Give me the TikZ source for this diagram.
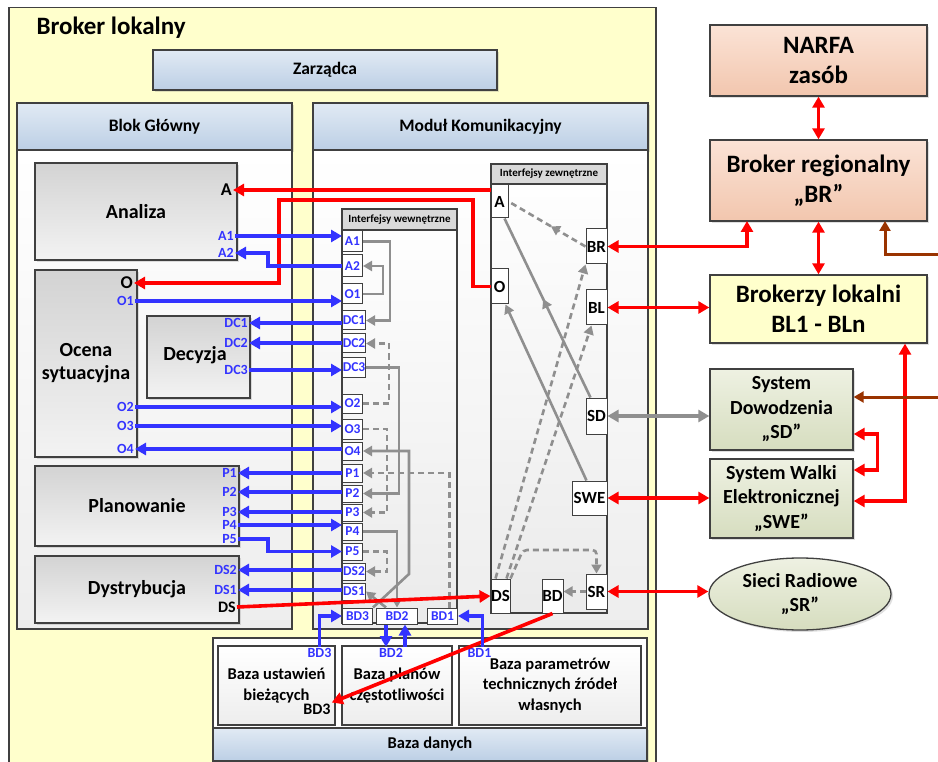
\documentclass[tikz,border=0pt]{standalone}
\usepackage{fontspec}
\setmainfont{Carlito}
\usetikzlibrary{arrows.meta,shapes.geometric,decorations.markings,shadows}

\definecolor{bordc}{HTML}{404040}
\definecolor{ylw}{HTML}{FFFFCC}
\definecolor{hdtop}{HTML}{E1EAF4}
\definecolor{hdbot}{HTML}{BCCFE5}
\definecolor{bltop}{HTML}{D3D3D3}
\definecolor{blbot}{HTML}{F3F3F3}
\definecolor{pchtop}{HTML}{FBE3D6}
\definecolor{pchbot}{HTML}{F2C6AE}
\definecolor{grntop}{HTML}{EEF1E2}
\definecolor{grnbot}{HTML}{D6DDBF}
\definecolor{pblue}{HTML}{3333FF}
\definecolor{pred}{HTML}{FF0000}
\definecolor{pgray}{HTML}{8F8F8F}
\definecolor{pbrown}{HTML}{993300}

\newcommand{\setfs}[2]{\fontsize{#1}{#2}\selectfont\bfseries}

\begin{document}
\begin{tikzpicture}[x=1pt,y=-1pt,
	box/.style={draw=bordc,line width=1.3pt,inner sep=0pt,align=center},
	sz/.style 2 args={minimum width=#1pt,minimum height=#2pt},
	shd/.style={drop shadow={opacity=0.25,shadow xshift=2pt,shadow yshift=-2pt}},
	hdr/.style={top color=hdtop,bottom color=hdbot,shd},
	blok/.style={top color=bltop,bottom color=blbot,shd},
	body/.style={top color=white,bottom color=black!7},
	ibody/.style={top color=white,bottom color=black!8},
	ihdr/.style={fill=black!15},
	peach/.style={top color=pchtop,bottom color=pchbot,shd},
	grn/.style={top color=grntop,bottom color=grnbot,shd},
	fhdr/.style={font=\setfs{17.5}{19}},
	fblok/.style={font=\setfs{20}{23}},
	fbaza/.style={font=\setfs{16.5}{20.5}},
	fsmall/.style={font=\setfs{11}{12}},
	fright/.style={font=\setfs{25}{30}},
	fsys/.style={font=\setfs{20}{24.5}},
	iport/.style={draw=bordc,line width=1pt,fill=white,inner sep=0pt,anchor=west,text=pblue,font=\setfs{13.5}{14}},
	eport/.style={draw=bordc,line width=1pt,fill=white,inner sep=0pt,font=\setfs{17}{18}},
	bluelbl/.style={anchor=east,inner sep=1pt,text=pblue,font=\setfs{14}{15}},
	blklbl/.style={anchor=east,inner sep=1pt,font=\setfs{18}{19}},
	bluearr/.style={draw=pblue,line width=3.6pt,>={Triangle[length=11pt,width=12pt]}},
	redarr/.style={draw=pred,line width=3.6pt,>={Triangle[length=11pt,width=12pt]}},
	grarr/.style={draw=pgray,line width=2.6pt,>={Triangle[length=9pt,width=10pt]}},
	grdash/.style={grarr,dash pattern=on 6pt off 4pt},
	brnarr/.style={draw=pbrown,line width=3pt,>={Triangle[length=10pt,width=11pt]}},
	midarr/.style={postaction={decorate},decoration={markings,mark=at position #1 with {\arrow{Triangle[length=9pt,width=10pt]}}}}
	]

		\useasboundingbox (0,0) rectangle (938,762);
		\fill [white] (0,0) rectangle (938,762);
		\clip (0,0) rectangle (938,762);

		% Broker lokalny
		\node (BrokerLokalny) at (332.5,391) [box,fill=ylw,sz={647}{767}] {};
		\node (BrokerLokalnyT) at (33,28) [anchor=west,font=\setfs{25}{28}] {Broker lokalny};
		\node (Zarzadca) at (325,70) [box,hdr,sz={344}{40},fhdr] {Zarządca};

		\node (BlokGlowny) at (154.5,126.5) [box,hdr,sz={275}{47},fhdr] {Blok Główny};
		\node (BlokGlownyB) at (154.5,389.5) [box,body,sz={275}{479}] {};
		\node (ModulKom) at (480.5,126.5) [box,hdr,sz={335}{47},fhdr] {Moduł Komunikacyjny};
		\node (ModulKomB) at (480.5,389.5) [box,body,sz={335}{479}] {};

		% blok glowny
		\node (Analiza) at (136,211.5) [box,blok,sz={202}{97},fblok] {Analiza};
		\node (Ocena) at (86,363.5) [box,blok,sz={102}{187},fblok] {Ocena\\sytuacyjna};
		\node (Decyzja) at (198.5,357) [box,blok,sz={103}{82}] {};
		\node (DecyzjaT) at (195,355) [fblok,inner sep=0pt] {Decyzja};
		\node (Planowanie) at (137,506) [box,blok,sz={204}{80},fblok] {Planowanie};
		\node (Dystrybucja) at (137,589.5) [box,blok,sz={204}{67},fblok] {Dystrybucja};

		\node (lA) at (233,190) [blklbl] {A};
		\node (lO) at (134,283) [blklbl] {O};
		\node (lDS) at (237,607) [blklbl,font=\setfs{16}{17}] {DS};

		\node (lA1) at (235,236) [bluelbl] {A1};
		\node (lA2) at (235,253) [bluelbl] {A2};
		\node (lO1) at (135,301) [bluelbl] {O1};
		\node (lDC1) at (249,323) [bluelbl] {DC1};
		\node (lDC2) at (249,343) [bluelbl] {DC2};
		\node (lDC3) at (249,370) [bluelbl] {DC3};
		\node (lO2) at (135,407) [bluelbl] {O2};
		\node (lO3) at (135,426) [bluelbl] {O3};
		\node (lO4) at (135,449) [bluelbl] {O4};
		\node (lP1) at (238,473) [bluelbl] {P1};
		\node (lP2) at (238,492) [bluelbl] {P2};
		\node (lP3) at (238,512) [bluelbl] {P3};
		\node (lP4) at (238,525) [bluelbl] {P4};
		\node (lP5) at (238,539) [bluelbl] {P5};
		\node (lDS2) at (238,570) [bluelbl] {DS2};
		\node (lDS1) at (238,590) [bluelbl] {DS1};

		% baza danych
		\node (BazaDanychB) at (430,699.5) [box,fill=white,sz={434}{123}] {};
		\node (BazaDanych) at (430,744.5) [box,hdr,sz={434}{33},fbaza] {Baza danych};
		\node (BazaUst) at (276.5,685.5) [box,body,sz={117}{79},fbaza] {Baza ustawień\\bieżących};
		\node (BazaPlan) at (397,685.5) [box,body,sz={110}{79},fbaza] {Baza planów\\częstotliwości};
		\node (BazaPar) at (550,685.5) [box,body,sz={182}{79},fbaza] {Baza parametrów\\technicznych źródeł\\własnych};

		\node (lBD3) at (319.5,647) [bluelbl,anchor=north] {BD3};
		\node (lBD2) at (391,647) [bluelbl,anchor=north] {BD2};
		\node (lBD1) at (479.5,647) [bluelbl,anchor=north] {BD1};
		\node (lBD3b) at (317,709) [font=\setfs{16}{17},inner sep=1pt] {BD3};

		% interfejsy wewnetrzne
		\node (IntWew) at (399.5,416) [box,ibody,sz={115}{414}] {};
		\node (IntWewH) at (399.5,219.5) [box,ihdr,sz={115}{21},fsmall] {Interfejsy wewnętrzne};

		\node (A1p) at (342,241.5) [iport,sz={20}{21}] {A1};
		\node (A2p) at (342,266) [iport,sz={20}{22}] {A2};
		\node (O1p) at (342,294) [iport,sz={20}{20}] {O1};
		\node (DC1p) at (342,320.5) [iport,sz={23}{19}] {DC1};
		\node (DC2p) at (342,343.5) [iport,sz={23}{19}] {DC2};
		\node (DC3p) at (342,367.5) [iport,sz={23}{19}] {DC3};
		\node (O2p) at (342,403.5) [iport,sz={20}{19}] {O2};
		\node (O3p) at (342,429) [iport,sz={20}{20}] {O3};
		\node (O4p) at (342,451) [iport,sz={20}{18}] {O4};
		\node (P1p) at (342,473) [iport,sz={20}{18}] {P1};
		\node (P2p) at (342,493.5) [iport,sz={20}{17}] {P2};
		\node (P3p) at (342,512.5) [iport,sz={20}{17}] {P3};
		\node (P4p) at (342,531.5) [iport,sz={20}{17}] {P4};
		\node (P5p) at (342,551.5) [iport,sz={20}{17}] {P5};
		\node (DS2p) at (342,571.5) [iport,sz={23}{17}] {DS2};
		\node (DS1p) at (342,591.5) [iport,sz={23}{17}] {DS1};
		\node (BD3p) at (342,616) [iport,sz={30}{16}] {BD3};
		\node (BD2p) at (376,616) [iport,sz={41}{16}] {BD2};
		\node (BD1p) at (427,616) [iport,sz={30}{16}] {BD1};

		% interfejsy zewnetrzne
		\node (IntZew) at (549,388.5) [box,ibody,sz={116}{449}] {};
		\node (IntZewH) at (549,174) [box,ihdr,sz={116}{20},fsmall] {Interfejsy zewnętrzne};

		\node (Az) at (499.5,201.5) [eport,sz={17}{33}] {A};
		\node (Oz) at (499.5,286.5) [eport,sz={17}{35}] {O};
		\node (BRz) at (596.5,246.5) [eport,sz={21}{35}] {BR};
		\node (BLz) at (596.5,307.5) [eport,sz={21}{35}] {BL};
		\node (SDz) at (596.5,416) [eport,sz={21}{36}] {SD};
		\node (SWEz) at (589.5,498) [eport,sz={35}{34}] {SWE};
		\node (SRz) at (596.5,591.5) [eport,sz={21}{35}] {SR};
		\node (DSz) at (500.5,596) [eport,sz={19}{34}] {DS};
		\node (BDz) at (552.5,596) [eport,sz={21}{34}] {BD};

		% otoczenie
		\node (NARFA) at (818.5,60.5) [box,peach,sz={217}{71},fright] {NARFA\\zasób};
		\node (BRg) at (818.5,180.5) [box,peach,sz={217}{81},fright] {Broker regionalny\\„BR”};
		\node (BLk) at (818.5,309) [box,fill=ylw,shd,sz={217}{68},fright] {Brokerzy lokalni\\BL1 - BLn};
		\node (SDs) at (781.5,409.5) [box,grn,sz={143}{81},fsys] {System\\Dowodzenia\\„SD”};
		\node (SWEs) at (781.5,498.5) [box,grn,sz={143}{79},fsys] {System Walki\\Elektronicznej\\„SWE”};
		\node (SRe) at (800,594) [box,grn,shape=ellipse,sz={182}{72},fsys] {Sieci Radiowe\\„SR”};

		% polaczenia wewnetrzne
		\draw [grarr,->] (A1p.east) -- ++(27,0) |- (DC1p.east);
		\draw [grarr,->] (O1p.east) -- ++(20,0) |- (A2p.east);
		\draw [grdash,->] (O2p.east) -- ++(26,0) |- (DC2p.east);
		\draw [grarr,->] (DC3p.east) -- ++(33,0) |- (P2p.east);
		\draw [grdash,->] (O3p.east) -- ++(24,0) |- (P3p.east);
		\coordinate (BDJ) at (409,574);
		\draw [grarr,->] (BD3p.north east) -- (BDJ) |- (O4p.east);
		\draw [grdash,->] ([xshift=7pt]BD1p.north) |- (P1p.east);
		\draw [grarr,->] (P4p.east) -| (BD2p.north);
		\draw [grdash,->] (P5p.east) -- ++(24,0) |- (DS2p.east);
		\draw [grarr,->] ([xshift=-11pt]BD2p.north) -- (DS1p.east);

		\draw [grdash,midarr=0.45] (BRz.west) -- (Az.east);
		\draw [grarr,midarr=0.55] ([xshift=-6pt]SDz.north) -- ([xshift=5pt]Az.south);
		\draw [grarr,->] ([xshift=-3pt]SWEz.north) -- ([xshift=6pt]Oz.south);
		\draw [grdash,->] ([xshift=-5pt]DSz.north) -- (BRz.south west);
		\draw [grdash,->] ([xshift=6pt]DSz.north) -- ([xshift=-5pt]BLz.south);
		\coordinate (DSJ) at (523,550);
		\draw [grdash,->,rounded corners=4pt] (DSz.north east) -- (DSJ) -| (SRz.north);
		\draw [grdash,->] (SRz.west) -- (SRz.west -| BDz.east);

		\draw [grarr,line width=3.4pt,<->,>={Triangle[length=11pt,width=12pt]}] (SDz.east) -- (SDz.east -| SDs.west);

		% czerwone
		\coordinate (OJ1) at (473,200);
		\coordinate (OJ2) at (279,200);
		\draw [redarr,->] (Oz.west) -| (OJ1) -- (OJ2) |- (lO.east);
		\draw [redarr,->] (lA.east -| Az.west) -- (lA.east);
		\draw [redarr,->] (lDS.east) -- (DSz.west);
		\draw [redarr,->] (BDz.south) -- (lBD3b.north east);

		\coordinate (BRJ) at (747,221);
		\draw [redarr,<->] (BRz.east) -| (BRJ);
		\draw [redarr,<->] (NARFA.south) -- (BRg.north);
		\draw [redarr,<->] (BRg.south) -- (BLk.north);
		\draw [redarr,<->] (BLz.east) -- (BLz.east -| BLk.west);
		\draw [redarr,<->] (SWEz.east) -- (SWEz.east -| SWEs.west);
		\draw [redarr,<->] (SRz.east) -- (SRz.east -| SRe.west);
		\draw [redarr,<->] ([yshift=-24.5pt]SDs.east) -- ++(24,0) |- ([yshift=28.5pt]SWEs.east);
		\draw [redarr,<->] ([yshift=-2.5pt]SWEs.east) -| ([xshift=86.5pt]BLk.south);

		\coordinate (BrnA) at (940,255);
		\coordinate (BrnB) at (885,221);
		\draw [brnarr,->] (BrnA) -| (BrnB);
		\coordinate (BrnC) at (940,397);
		\draw [brnarr,->] (BrnC) -- (BrnC -| SDs.east);

		% niebieskie
		\draw [bluearr,->] (lA1.east) -- (lA1.east -| A1p.west);
		\draw [bluearr,->] (A2p.west) -- ++(-74,0) |- (lA2.east);
		\draw [bluearr,->] (lO1.east) -- (lO1.east -| O1p.west);
		\draw [bluearr,<-] (lDC1.east) -- (lDC1.east -| DC1p.west);
		\draw [bluearr,<-] (lDC2.east) -- (lDC2.east -| DC2p.west);
		\draw [bluearr,->] (lDC3.east) -- (lDC3.east -| DC3p.west);
		\draw [bluearr,->] (lO2.east) -- (lO2.east -| O2p.west);
		\draw [bluearr,->] (lO3.east) -- (lO3.east -| O3p.west);
		\draw [bluearr,<-] (lO4.east) -- (lO4.east -| O4p.west);
		\draw [bluearr,<-] (lP1.east) -- (lP1.east -| P1p.west);
		\draw [bluearr,<-] (lP2.east) -- (lP2.east -| P2p.west);
		\draw [bluearr,<-] (lP3.east) -- (lP3.east -| P3p.west);
		\draw [bluearr,->] (lP4.east) -- (lP4.east -| P4p.west);
		\draw [bluearr,->] (lP5.east) -- ++(30,0) |- (P5p.west);
		\draw [bluearr,<-] (lDS2.east) -- (lDS2.east -| DS2p.west);
		\draw [bluearr,<-] (lDS1.east) -- (lDS1.east -| DS1p.west);

		\draw [bluearr,->] (lBD3.north) |- (BD3p.west);
		\draw [bluearr,->] ([xshift=-11pt]BD2p.south) -- ([xshift=-11pt]BD2p.south |- lBD2.north);
		\draw [bluearr,->] ([xshift=8pt]BD2p.south |- lBD2.north) -- ([xshift=8pt]BD2p.south);
		\draw [bluearr,->] ([xshift=3pt]lBD1.north) |- (BD1p.east);
	\end{tikzpicture}
\end{document}
